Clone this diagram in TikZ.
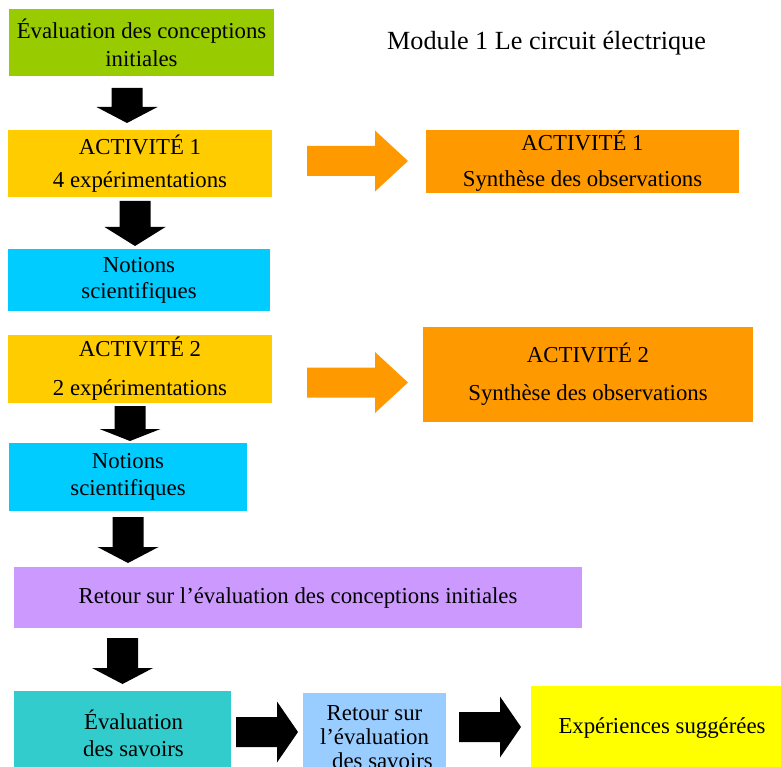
\documentclass[tikz,border=0pt]{standalone}
\usepackage{fontspec}
\setmainfont{Liberation Serif}

\definecolor{vertpomme}{HTML}{99CC00}
\definecolor{jaunor}{HTML}{FFCC00}
\definecolor{orangevif}{HTML}{FF9900}
\definecolor{cyanvif}{HTML}{00CCFF}
\definecolor{mauve}{HTML}{CC99FF}
\definecolor{sarcelle}{HTML}{33CCCC}
\definecolor{bleuciel}{HTML}{99CCFF}
\definecolor{jaunevif}{HTML}{FFFF00}

\tikzset{
  boite/.style={inner sep=0pt,align=center,text=black},
  % fleche epaisse vers le bas : longueur du corps, longueur de la pointe
  pics/flechebas/.style 2 args={code={
    \fill[black] (-15.5,0) -- (15.5,0) -- (15.5,#1) -- (30.5,#1)
      -- (0,#1+#2) -- (-30.5,#1) -- (-15.5,#1) -- cycle;}},
  % fleche epaisse vers la droite : corps, pointe, couleur
  pics/flechedroite/.style n args={3}{code={
    \fill[#3] (0,-15) -- (#1,-15) -- (#1,-30.5) -- (#1+#2,0)
      -- (#1,30.5) -- (#1,15) -- (0,15) -- cycle;}},
}

\begin{document}
\begin{tikzpicture}[x=1pt,y=-1pt,every node/.style={font=\fontsize{22.8}{27}\selectfont}]
\useasboundingbox (0,0) rectangle (781,767);
\clip (0,0) rectangle (781,767);

% colonne de gauche
\node[boite,fill=vertpomme,minimum width=265,minimum height=67] (evalinit) at (141.5,42.5)
  {Évaluation des conceptions\\[1pt]initiales};
\node (titre) at (546.5,43) [font=\fontsize{26.2}{30}\selectfont] {Module 1 Le circuit électrique};

\node[boite,fill=jaunor,minimum width=264,minimum height=67] (act1) at (140,163.5)
  {ACTIVITÉ 1\\[6pt]4 expérimentations};
\node[boite,fill=cyanvif,minimum width=262,minimum height=62] (notions1) at (139,280)
  {Notions\\[-1pt]scientifiques};
\node[boite,fill=jaunor,minimum width=264,minimum height=68] (act2) at (140,369)
  {ACTIVITÉ 2\\[12pt]2 expérimentations};
\node[boite,fill=cyanvif,minimum width=238,minimum height=68] (notions2) at (128,477)
  {Notions\\scientifiques};
\node[boite,fill=mauve,minimum width=568,minimum height=61] (retour) at (298,597.5)
  {Retour sur l’évaluation des conceptions initiales};

% colonne de droite
\node[boite,fill=orangevif,minimum width=313,minimum height=63] (synth1) at (582.5,161.5)
  {ACTIVITÉ 1\\[9pt]Synthèse des observations};
\node[boite,fill=orangevif,minimum width=330,minimum height=95] (synth2) at (588,374.5)
  {ACTIVITÉ 2\\[11pt]Synthèse des observations};

% ligne du bas
\node[boite,fill=sarcelle,minimum width=217,minimum height=85] (evalsav) at (122.5,733.5) {};
\node[boite] (evalsavtxt) at ([xshift=11]evalsav.center) {Évaluation\\des savoirs};
\node[boite,fill=bleuciel,minimum width=143,minimum height=88] (retoursav) at (374.5,737)
  {Retour sur\\[-3pt]l’évaluation\\[-3pt]\hspace*{16pt}des savoirs};
\node[boite,fill=jaunevif,minimum width=262,minimum height=84] (experiences) at (662,728)
  {Expériences suggérées};

% fleches
\pic at (127,88) {flechebas={19}{16}};
\pic at (135,201) {flechebas={26}{19}};
\pic at (130,406) {flechebas={23}{12}};
\pic at (128,517) {flechebas={30}{16}};
\pic at (122.5,638) {flechebas={30}{16}};
\pic at (307,161) {flechedroite={68}{33}{orangevif}};
\pic at (307,382.5) {flechedroite={68}{33}{orangevif}};
\pic at (236,732) {flechedroite={41}{21}{black}};
\pic at (459,727) {flechedroite={41}{21}{black}};
\end{tikzpicture}
\end{document}
